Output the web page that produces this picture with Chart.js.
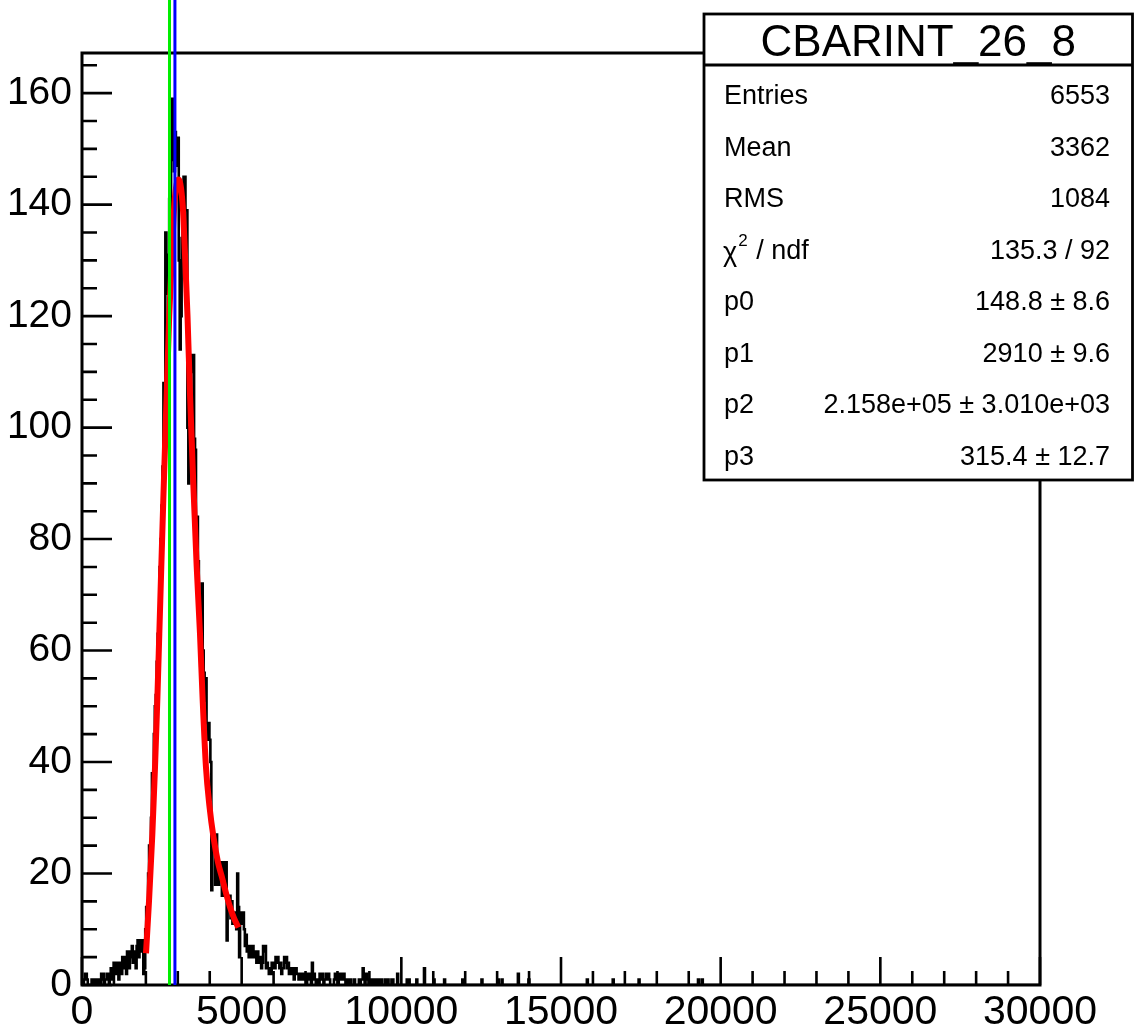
<!DOCTYPE html>
<html>
<head>
<meta charset="utf-8">
<title>CBARINT_26_8</title>
<script src="https://cdn.jsdelivr.net/npm/chart.js@4.4.0/dist/chart.umd.js"></script>
<style>
  html, body { margin: 0; padding: 0; background: #fff; }
  canvas { display: block; }
</style>
</head>
<body>
<canvas id="histChart" width="1134" height="1030"></canvas>
<script>
// Histogram CBARINT_26_8 with fit - ROOT style look
const BIN_WIDTH = 30;
const NBINS = 1000;

// counts of bins 0..339 (bin i covers [i*30, i*30+30))
const lowBinCounts = [
    0,0,1,2,2,1,0,0,0,0,
    1,0,1,1,0,1,1,0,1,0,
    2,1,2,0,1,1,2,1,0,2,
    3,1,2,4,3,2,4,3,1,4,
    4,2,5,3,4,5,2,6,4,3,
    6,5,7,4,6,5,3,7,8,5,
    8,6,7,8,2,3,10,14,13,20,
    25,22,30,38,36,45,50,52,58,63,
    67,75,80,86,93,108,102,135,128,124,
    131,141,137,148,159,150,146,153,152,147,
    152,130,114,120,134,141,145,145,139,139,
    100,90,92,104,113,110,113,98,96,80,
    84,76,67,70,62,72,60,56,51,55,
    47,44,47,44,40,17,27,25,27,18,
    27,22,18,22,20,22,16,22,19,22,
    22,8,16,14,16,12,15,11,13,12,
    13,10,20,14,5,12,13,11,13,10,
    7,9,6,7,5,7,6,5,7,6,
    5,6,4,6,5,4,5,3,4,7,
    6,7,3,4,3,2,3,2,4,3,
    4,3,5,4,5,4,3,4,2,3,
    3,5,4,5,3,4,2,3,3,2,
    3,1,2,3,2,2,1,2,2,1,
    2,2,1,2,0,2,1,2,1,0,
    4,1,2,1,0,1,1,0,2,2,
    1,2,0,1,1,2,1,2,1,0,
    0,0,0,1,2,1,2,0,2,1,
    2,2,1,2,1,0,1,1,0,1,
    1,0,0,0,1,0,0,0,0,1,
    0,1,1,3,2,0,1,2,1,0,
    1,0,1,0,1,1,0,1,0,0,
    1,0,1,0,0,0,1,1,0,1,
    0,0,0,1,1,0,0,0,0,2,
    0,0,0,0,0,0,0,0,0,1
];

// sparse far tail
const tailBinIndex = [341, 349, 357, 367, 378, 397, 417, 434, 438, 455, 466, 527, 554, 581, 643, 647];
const tailBinCount = [1,   1,   3,   1,   1,   1,   1,   1,   1,   2,   1,   1,   1,   1,   1,   1];

// fit curve
const fitX = [2004, 2098, 2202, 2286, 2358, 2421, 2483, 2546, 2652, 2731, 2809, 2880, 2944, 3022,
              3100, 3163, 3226, 3304, 3382, 3485, 3592, 3695, 3780, 3883, 3993, 4118, 4259, 4375,
              4509, 4635, 4760, 4900];
const fitY = [5.7, 15, 27, 39, 51, 63, 75, 87, 106, 120, 130, 139, 143, 144.5,
              143, 139, 131, 120, 106, 90, 75, 63, 51, 39, 32, 26.5, 22, 19.5,
              16.5, 14, 12, 10.3];

// vertical marker lines
const markerValues = [2740, 2910];
const markerColors = ['#00ee00', '#0000ff'];

const xTickLabels = [0, 5000, 10000, 15000, 20000, 25000, 30000];
const yTickLabels = [0, 20, 40, 60, 80, 100, 120, 140, 160];
const X_MINOR_STEP = 1000;
const Y_MINOR_STEP = 5;

const statsTitle = 'CBARINT_26_8';
const statNames = ['Entries', 'Mean', 'RMS', 'chi2', 'p0', 'p1', 'p2', 'p3'];
const statValues = ['6553', '3362', '1084', '135.3 / 92', '148.8 \u00b1 8.6', '2910 \u00b1 9.6',
                    '2.158e+05 \u00b1 3.010e+03', '315.4 \u00b1 12.7'];

const FONT = "'Liberation Sans', Arial, Helvetica, sans-serif";

// build histogram step points
const counts = new Array(NBINS).fill(0);
lowBinCounts.forEach(function(c, i) { counts[i] = c; });
tailBinIndex.forEach(function(b, k) { counts[b] = tailBinCount[k]; });
const histPoints = counts.map(function(c, i) { return { x: i * BIN_WIDTH, y: c }; });
histPoints.push({ x: NBINS * BIN_WIDTH, y: 0 });

const fitPoints = fitX.map(function(v, i) { return { x: v, y: fitY[i] }; });

// frame + inward ticks, marker lines, stats box
const rootFrame = {
    id: 'rootFrame',
    beforeDatasetsDraw(chart) {
        const ctx = chart.ctx;
        const a = chart.chartArea;
        const xs = chart.scales.x, ys = chart.scales.y;
        ctx.save();
        ctx.strokeStyle = '#000';
        ctx.lineWidth = 3;
        ctx.strokeRect(a.left, a.top, a.right - a.left, a.bottom - a.top);
        ctx.lineWidth = 2.6;
        ctx.beginPath();
        for (let v = xs.min; v <= xs.max; v += X_MINOR_STEP) {
            const px = xs.getPixelForValue(v);
            const len = xTickLabels.includes(v) ? 28 : 14;
            ctx.moveTo(px, a.bottom);
            ctx.lineTo(px, a.bottom - len);
        }
        for (let v = 0; v <= ys.max; v += Y_MINOR_STEP) {
            const py = ys.getPixelForValue(v);
            const len = yTickLabels.includes(v) ? 30 : 15;
            ctx.moveTo(a.left, py);
            ctx.lineTo(a.left + len, py);
        }
        ctx.stroke();
        ctx.restore();
    },
    afterDatasetsDraw(chart) {
        const ctx = chart.ctx;
        const a = chart.chartArea;
        const xs = chart.scales.x;
        ctx.save();
        ctx.lineWidth = 3;
        markerValues.forEach(function(v, i) {
            const px = xs.getPixelForValue(v);
            ctx.strokeStyle = markerColors[i];
            ctx.beginPath();
            ctx.moveTo(px, a.bottom);
            ctx.lineTo(px, 0);
            ctx.stroke();
        });
        ctx.restore();
    },
    afterDraw(chart) {
        const ctx = chart.ctx;
        const bx = 704, by = 14, bw = 428.5, bh = 466;
        ctx.save();
        ctx.fillStyle = '#fff';
        ctx.fillRect(bx, by, bw, bh);
        ctx.strokeStyle = '#000';
        ctx.lineWidth = 2.8;
        ctx.strokeRect(bx, by, bw, bh);
        ctx.beginPath();
        ctx.moveTo(bx, 65);
        ctx.lineTo(bx + bw, 65);
        ctx.stroke();

        ctx.fillStyle = '#000';
        ctx.textBaseline = 'alphabetic';
        ctx.font = '44px ' + FONT;
        ctx.textAlign = 'center';
        ctx.fillText(statsTitle, bx + bw / 2, 56);

        ctx.font = '27px ' + FONT;
        statNames.forEach(function(name, i) {
            const base = 104 + 51.5 * i;
            ctx.textAlign = 'left';
            if (name === 'chi2') {
                ctx.fillText('\u03c7', 723, base + 2);
                const w = ctx.measureText('\u03c7').width;
                ctx.font = '17px ' + FONT;
                ctx.fillText('2', 723 + w + 1, base - 13);
                const w2 = ctx.measureText('2').width;
                ctx.font = '27px ' + FONT;
                ctx.fillText(' / ndf', 723 + w + w2 + 2, base);
            } else {
                ctx.fillText(name, 724, base);
            }
            ctx.textAlign = 'right';
            ctx.fillText(statValues[i], 1110, base);
        });
        ctx.restore();
    }
};

new Chart(document.getElementById('histChart'), {
    type: 'line',
    data: {
        datasets: [{
            label: 'fit',
            data: fitPoints,
            borderColor: '#ff0000',
            borderWidth: 6,
            pointRadius: 0,
            cubicInterpolationMode: 'monotone',
            fill: false
        }, {
            label: 'CBARINT_26_8',
            data: histPoints,
            stepped: true,
            borderColor: '#000',
            borderWidth: 2.6,
            pointRadius: 0,
            fill: false
        }]
    },
    options: {
        responsive: false,
        animation: false,
        devicePixelRatio: 1,
        layout: { padding: { top: 53, right: 94, left: 0, bottom: 0 } },
        plugins: {
            legend: { display: false },
            tooltip: { enabled: false }
        },
        scales: {
            x: {
                type: 'linear',
                min: 0,
                max: 30000,
                grid: { display: false, drawTicks: false },
                border: { display: false },
                ticks: {
                    color: '#000',
                    font: { family: FONT, size: 41 },
                    padding: 3,
                    maxRotation: 0,
                    autoSkip: false,
                    callback: function(v) { return String(v); }
                },
                afterBuildTicks: function(s) { s.ticks = xTickLabels.map(function(v) { return { value: v }; }); },
                afterFit: function(s) { s.height = 45; }
            },
            y: {
                type: 'linear',
                min: 0,
                max: 167.2,
                grid: { display: false, drawTicks: false },
                border: { display: false },
                ticks: {
                    color: '#000',
                    font: { family: FONT, size: 39 },
                    padding: 10,
                    autoSkip: false,
                    callback: function(v) { return String(v); }
                },
                afterBuildTicks: function(s) { s.ticks = yTickLabels.map(function(v) { return { value: v }; }); },
                afterFit: function(s) { s.width = 82; }
            }
        }
    },
    plugins: [rootFrame]
});
</script>
</body>
</html>
